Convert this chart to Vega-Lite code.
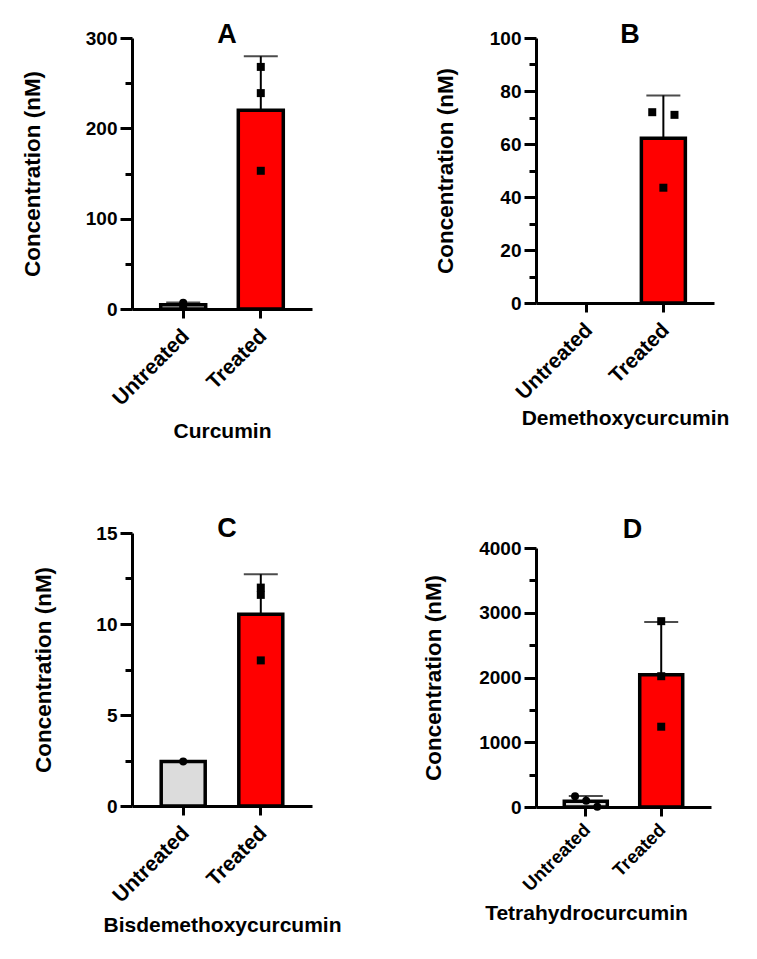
{
  "$schema": "https://vega.github.io/schema/vega-lite/v6.json",
  "padding": {"left": 21, "top": 21, "right": 5, "bottom": 5},
  "background": "white",
  "datasets": {
    "curcumin": [
      {"group": "Untreated", "rep": "1", "value": 2},
      {"group": "Untreated", "rep": "2", "value": 5},
      {"group": "Untreated", "rep": "3", "value": 7},
      {"group": "Treated", "rep": "1", "value": 268},
      {"group": "Treated", "rep": "2", "value": 239},
      {"group": "Treated", "rep": "3", "value": 153}
    ],
    "dmc": [
      {"group": "Treated", "rep": "1", "value": 72},
      {"group": "Treated", "rep": "2", "value": 71},
      {"group": "Treated", "rep": "3", "value": 43.5}
    ],
    "bdmc": [
      {"group": "Untreated", "rep": "1", "value": 2.45},
      {"group": "Treated", "rep": "1", "value": 12.0},
      {"group": "Treated", "rep": "2", "value": 11.6},
      {"group": "Treated", "rep": "3", "value": 8.0}
    ],
    "thc": [
      {"group": "Untreated", "rep": "1", "value": 165},
      {"group": "Untreated", "rep": "2", "value": 5},
      {"group": "Untreated", "rep": "3", "value": 95},
      {"group": "Treated", "rep": "1", "value": 2870},
      {"group": "Treated", "rep": "2", "value": 2020},
      {"group": "Treated", "rep": "3", "value": 1240}
    ]
  },
  "concat": [
    {
      "vconcat": [
        {
          "width": 180, "height": 271,
          "title": {"text": "A", "offset": -20, "dx": 5},
          "data": {"name": "curcumin"},
          "encoding": {
            "x": {"field": "group", "type": "nominal", "scale": {"type": "band", "domain": ["Untreated", "Treated"], "paddingInner": 0.42, "paddingOuter": 0.37}, "axis": {"title": "Curcumin", "titlePadding": 11}},
            "y": {"field": "value", "type": "quantitative", "title": "Concentration (nM)", "scale": {"domain": [0, 300], "nice": false}, "axis": {"titlePadding": 41, "values": [0, 50, 100, 150, 200, 250, 300], "format": "d", "labelExpr": "datum.value % 100 === 0 ? datum.label : ''", "tickSize": {"condition": {"test": "datum.value % 100 !== 0", "value": 7}, "value": 12}}}
          },
          "layer": [
            {"mark": {"type": "errorbar", "extent": "stdev", "thickness": 2, "size": 34, "ticks": true, "color": "black"}},
            {"mark": {"type": "bar", "stroke": "black", "strokeWidth": 3.5, "width": 45}, "encoding": {"y": {"aggregate": "mean", "field": "value", "type": "quantitative", "title": "Concentration (nM)"}, "fill": {"field": "group", "type": "nominal", "scale": {"domain": ["Untreated", "Treated"], "range": ["#dcdcdc", "#ff0000"]}, "legend": null}}},
            {"mark": {"type": "point", "filled": true, "size": 64, "opacity": 1, "color": "black"}, "encoding": {"shape": {"field": "group", "type": "nominal", "scale": {"domain": ["Untreated", "Treated"], "range": ["circle", "square"]}, "legend": null}}}
          ]
        },
        {
          "width": 180, "height": 273,
          "title": {"text": "C", "offset": -19, "dx": 5},
          "data": {"name": "bdmc"},
          "encoding": {
            "x": {"field": "group", "type": "nominal", "scale": {"type": "band", "domain": ["Untreated", "Treated"], "paddingInner": 0.42, "paddingOuter": 0.37}, "axis": {"title": "Bisdemethoxycurcumin", "titlePadding": 8}},
            "y": {"field": "value", "type": "quantitative", "title": "Concentration (nM)", "scale": {"domain": [0, 15], "nice": false}, "axis": {"titlePadding": 40, "values": [0, 2.5, 5, 7.5, 10, 12.5, 15], "format": "d", "labelExpr": "datum.value % 5 === 0 ? datum.label : ''", "tickSize": {"condition": {"test": "datum.value % 5 !== 0", "value": 7}, "value": 12}}}
          },
          "layer": [
            {"transform": [{"filter": "datum.group === 'Treated'"}], "mark": {"type": "errorbar", "extent": "stdev", "thickness": 2, "size": 34, "ticks": true, "color": "black"}},
            {"mark": {"type": "bar", "stroke": "black", "strokeWidth": 3.5, "width": 44}, "encoding": {"y": {"aggregate": "mean", "field": "value", "type": "quantitative", "title": "Concentration (nM)"}, "fill": {"field": "group", "type": "nominal", "scale": {"domain": ["Untreated", "Treated"], "range": ["#dcdcdc", "#ff0000"]}, "legend": null}}},
            {"mark": {"type": "point", "filled": true, "size": 64, "opacity": 1, "color": "black"}, "encoding": {"shape": {"field": "group", "type": "nominal", "scale": {"domain": ["Untreated", "Treated"], "range": ["circle", "square"]}, "legend": null}}}
          ]
        }
      ],
      "bounds": "flush",
      "spacing": 224
    },
    {
      "vconcat": [
        {
          "width": 178, "height": 265,
          "title": {"text": "B", "offset": -20, "dx": 5},
          "data": {"name": "dmc"},
          "encoding": {
            "x": {"field": "group", "type": "nominal", "scale": {"type": "band", "domain": ["Untreated", "Treated"], "paddingInner": 0.42, "paddingOuter": 0.37}, "axis": {"title": "Demethoxycurcumin", "titlePadding": 4}},
            "y": {"field": "value", "type": "quantitative", "title": "Concentration (nM)", "scale": {"domain": [0, 100], "nice": false}, "axis": {"titlePadding": 32, "values": [0, 10, 20, 30, 40, 50, 60, 70, 80, 90, 100], "format": "d", "labelExpr": "datum.value % 20 === 0 ? datum.label : ''", "tickSize": {"condition": {"test": "datum.value % 20 !== 0", "value": 7}, "value": 12}}}
          },
          "layer": [
            {"mark": {"type": "errorbar", "extent": "stdev", "thickness": 2, "size": 34, "ticks": true, "color": "black"}},
            {"mark": {"type": "bar", "stroke": "black", "strokeWidth": 3.5, "width": 44}, "encoding": {"y": {"aggregate": "mean", "field": "value", "type": "quantitative", "title": "Concentration (nM)"}, "fill": {"field": "group", "type": "nominal", "scale": {"domain": ["Untreated", "Treated"], "range": ["#dcdcdc", "#ff0000"]}, "legend": null}}},
            {"mark": {"type": "point", "filled": true, "size": 64, "opacity": 1, "color": "black"}, "encoding": {"xOffset": {"field": "rep", "type": "nominal", "scale": {"domain": ["1", "3", "2"], "paddingInner": 0, "paddingOuter": 1.5}}, "shape": {"field": "group", "type": "nominal", "scale": {"domain": ["Untreated", "Treated"], "range": ["circle", "square"]}, "legend": null}}}
          ]
        },
        {
          "width": 175, "height": 259,
          "title": {"text": "D", "offset": -5, "dx": 9},
          "data": {"name": "thc"},
          "encoding": {
            "x": {"field": "group", "type": "nominal", "scale": {"type": "band", "domain": ["Untreated", "Treated"], "paddingInner": 0.42, "paddingOuter": 0.37}, "axis": {"title": "Tetrahydrocurcumin", "titlePadding": 8, "titleX": 50, "labelFontSize": 18.5, "labelPadding": 4}},
            "y": {"field": "value", "type": "quantitative", "title": "Concentration (nM)", "scale": {"domain": [0, 4000], "nice": false}, "axis": {"titlePadding": 33, "values": [0, 500, 1000, 1500, 2000, 2500, 3000, 3500, 4000], "format": "d", "labelExpr": "datum.value % 1000 === 0 ? datum.label : ''", "tickSize": {"condition": {"test": "datum.value % 1000 !== 0", "value": 7}, "value": 12}}}
          },
          "layer": [
            {"mark": {"type": "errorbar", "extent": "stdev", "thickness": 2, "size": 34, "ticks": true, "color": "black"}},
            {"mark": {"type": "bar", "stroke": "black", "strokeWidth": 3.5, "width": 43}, "encoding": {"y": {"aggregate": "mean", "field": "value", "type": "quantitative", "title": "Concentration (nM)"}, "fill": {"field": "group", "type": "nominal", "scale": {"domain": ["Untreated", "Treated"], "range": ["#dcdcdc", "#ff0000"]}, "legend": null}}},
            {"transform": [{"filter": "datum.group === 'Untreated'"}], "mark": {"type": "point", "shape": "circle", "filled": true, "size": 64, "opacity": 1, "color": "black"}, "encoding": {"xOffset": {"field": "rep", "type": "nominal", "scale": {"domain": ["1", "2", "3"], "paddingInner": 0, "paddingOuter": 1.25}}}},
            {"transform": [{"filter": "datum.group === 'Treated'"}], "mark": {"type": "point", "shape": "square", "filled": true, "size": 64, "opacity": 1, "color": "black"}}
          ]
        }
      ],
      "bounds": "flush",
      "spacing": 245
    }
  ],
  "columns": 2,
  "align": "none",
  "spacing": {"column": 80, "row": 0},
  "config": {
    "view": {"stroke": null},
    "font": "Liberation Sans",
    "axis": {
      "grid": false,
      "domainColor": "black", "domainWidth": 3,
      "tickColor": "black", "tickWidth": 3,
      "labelColor": "black", "labelFont": "Liberation Sans", "labelFontSize": 19, "labelFontWeight": "bold",
      "titleColor": "black", "titleFont": "Liberation Sans", "titleFontWeight": "bold"
    },
    "axisX": {"labelAngle": -45, "tickSize": 9, "labelPadding": 7, "labelOffset": -5, "labelFontSize": 21, "titleFontSize": 21},
    "axisY": {"labelPadding": 3, "titleFontSize": 22.5},
    "title": {"font": "Liberation Sans", "fontSize": 27, "fontWeight": "bold", "color": "black", "anchor": "middle", "frame": "group"}
  }
}
